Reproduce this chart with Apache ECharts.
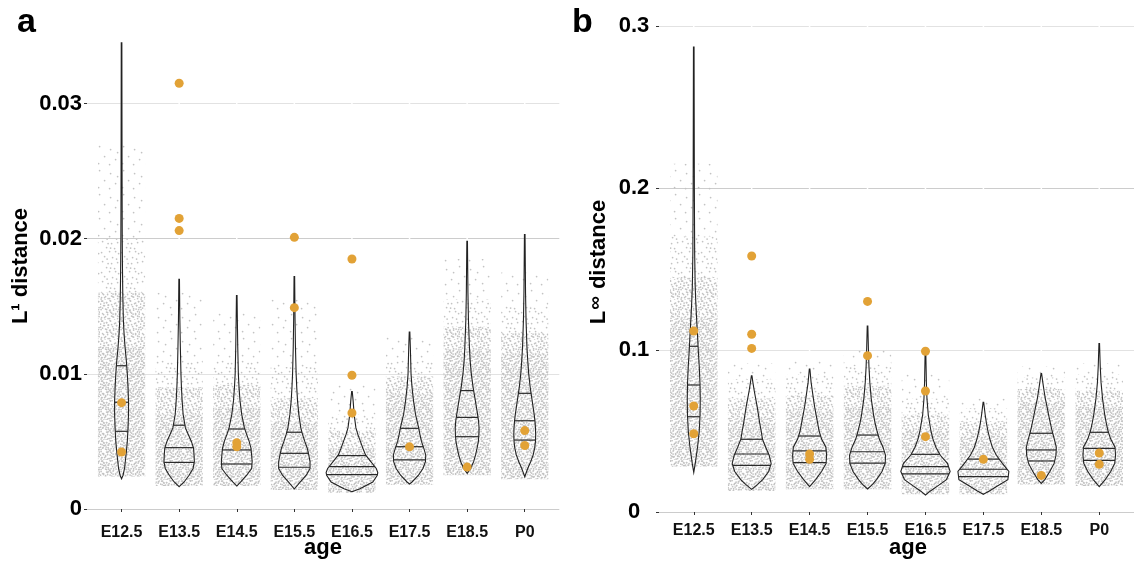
<!DOCTYPE html>
<html><head><meta charset="utf-8">
<script src="https://cdn.jsdelivr.net/npm/echarts@6/dist/echarts.min.js"></script>
<style>html,body{margin:0;padding:0;background:#fff}#c{width:1134px;height:562px}</style>
</head><body><div id="c"></div>
<script>
// ---------------- DATA ----------------
const categories = ['E12.5','E13.5','E14.5','E15.5','E16.5','E17.5','E18.5','P0'];
const l1Ticks = [0, 0.01, 0.02, 0.03];
const linfTicks = [0, 0.1, 0.2, 0.3];

// violin density profiles: [value, relative half-width]
const l1Profiles = [
 [[0.00224,0],[0.0025,1.5],[0.003,3],[0.004,4.5],[0.005,5.8],[0.006,6.5],[0.007,7],[0.008,7],[0.009,6.5],[0.010,5.8],[0.011,4.8],[0.012,3.5],[0.013,2.5],[0.014,1.8],[0.016,1.2],[0.018,0.9],[0.020,0.7],[0.025,0.5],[0.0345,0.3]],
 [[0.00165,0],[0.002,5],[0.0025,10],[0.003,14],[0.0035,15.3],[0.004,15],[0.0045,14.5],[0.005,12.3],[0.0055,9.3],[0.006,6.3],[0.007,4],[0.008,3],[0.009,2.3],[0.010,1.8],[0.012,1.2],[0.014,0.7],[0.017,0.3]],
 [[0.0017,0],[0.002,4],[0.0025,10],[0.003,15],[0.0035,15.5],[0.004,15],[0.0045,14.3],[0.005,12.5],[0.0055,10],[0.006,7.7],[0.007,5],[0.008,3.3],[0.009,2.3],[0.010,1.6],[0.012,1.0],[0.014,0.6],[0.0158,0.3]],
 [[0.00148,0],[0.002,6],[0.0025,12],[0.003,15.8],[0.0035,15.8],[0.004,14.5],[0.0045,13],[0.005,10.5],[0.0055,8.3],[0.006,6.5],[0.007,4.5],[0.008,3.2],[0.009,2.4],[0.010,1.8],[0.012,1.1],[0.014,0.7],[0.0172,0.3]],
 [[0.00128,0],[0.0015,8],[0.002,21],[0.0025,25.5],[0.0027,26],[0.003,24.5],[0.0035,19],[0.004,13.7],[0.0045,11],[0.005,8.5],[0.0055,6],[0.006,4],[0.007,2.2],[0.008,1.2],[0.0087,0.3]],
 [[0.00185,0],[0.002,2.5],[0.0025,9],[0.003,13.5],[0.0035,16],[0.004,16.3],[0.0045,14.3],[0.005,12],[0.0055,10.5],[0.006,9.2],[0.007,6],[0.008,4],[0.009,2.5],[0.010,1.5],[0.012,0.8],[0.0131,0.3]],
 [[0.00264,0],[0.003,3.5],[0.0035,6.5],[0.004,8.5],[0.0045,10],[0.005,11.3],[0.0055,11.8],[0.006,12],[0.0065,11.5],[0.007,10.5],[0.008,8.3],[0.009,6],[0.010,4.2],[0.011,3],[0.012,2.3],[0.014,1.3],[0.016,0.8],[0.0198,0.3]],
 [[0.00239,0],[0.003,3],[0.0035,6],[0.004,8.5],[0.0045,10],[0.005,10.8],[0.0055,11],[0.006,10.8],[0.0065,10.3],[0.007,9.5],[0.008,7.5],[0.009,5.5],[0.010,4],[0.011,3],[0.012,2.2],[0.014,1.3],[0.016,0.8],[0.0203,0.3]]
];
const l1Quartiles = [
 [0.00575,0.0079,0.0106],[0.00345,0.00454,0.0062],[0.00333,0.00437,0.00592],[0.00309,0.00412,0.00568],
 [0.00254,0.00313,0.00395],[0.00363,0.00461,0.00597],[0.00535,0.00678,0.00876],[0.0051,0.00653,0.00856]
];
// jittered cloud extent: [low, denseTop, mediumTop, lightTop, sparseTop]
const l1Clouds = [
 [0.0024,0.012,0.016,0.020,0.027],[0.0017,0.007,0.009,0.011,0.016],[0.0017,0.0075,0.0092,0.011,0.0145],[0.0014,0.0065,0.0082,0.0105,0.0155],
 [0.0012,0.0045,0.0058,0.007,0.0092],[0.0018,0.0085,0.0098,0.011,0.0128],[0.0025,0.0118,0.0135,0.0155,0.0185],[0.0022,0.0115,0.013,0.015,0.0175]
];
const l1Highlights = [
 [1,0.00787],[1,0.00422],[2,0.0315],[2,0.0215],[2,0.0206],[3,0.0049],[3,0.0046],[4,0.0201],[4,0.0149],
 [5,0.0185],[5,0.0099],[5,0.0071],[6,0.0046],[7,0.0031],[8,0.0058],[8,0.0047]
];

const linfProfiles = [
 [[0.0245,0],[0.03,1.5],[0.04,3.8],[0.05,5.5],[0.06,6.3],[0.07,6.5],[0.08,6.2],[0.09,5.5],[0.10,4.5],[0.11,3.7],[0.12,2.8],[0.13,2],[0.14,1.4],[0.16,0.9],[0.20,0.6],[0.287,0.3]],
 [[0.014,0],[0.017,6],[0.02,11],[0.025,17],[0.03,19.5],[0.035,17.5],[0.04,14],[0.045,10.8],[0.05,9.5],[0.055,8],[0.06,6.8],[0.065,5.5],[0.07,4],[0.075,2.5],[0.08,1.2],[0.084,0.3]],
 [[0.0156,0],[0.02,6],[0.025,12],[0.03,16.5],[0.035,17],[0.04,16.3],[0.045,12],[0.05,9.5],[0.055,8],[0.06,6.5],[0.065,5],[0.07,3.8],[0.08,1.5],[0.0883,0.3]],
 [[0.0142,0],[0.017,5],[0.02,9],[0.025,14.5],[0.03,17.7],[0.035,18],[0.04,15.5],[0.045,11.8],[0.05,9.5],[0.055,7.5],[0.06,6],[0.07,3.7],[0.08,2.3],[0.09,1.4],[0.10,0.9],[0.1148,0.3]],
 [[0.0105,0],[0.013,5],[0.016,12],[0.02,21],[0.025,24.7],[0.03,22],[0.035,14.8],[0.04,10.5],[0.045,7.5],[0.05,5.5],[0.06,2.8],[0.07,1.5],[0.08,0.9],[0.10,0.3]],
 [[0.0109,0],[0.013,6],[0.016,14],[0.02,24.5],[0.025,25.5],[0.03,19],[0.035,13],[0.04,9],[0.045,6.5],[0.05,4.5],[0.055,3],[0.06,1.8],[0.0677,0.3]],
 [[0.0177,0],[0.02,3.5],[0.025,8.5],[0.03,12.8],[0.035,14.7],[0.04,15],[0.045,13],[0.05,10.8],[0.055,9],[0.06,7.3],[0.065,5.7],[0.07,4],[0.075,2.7],[0.08,1.5],[0.0854,0.3]],
 [[0.0156,0],[0.02,6],[0.025,11.5],[0.03,15.5],[0.035,16.3],[0.04,15.8],[0.045,11.5],[0.05,8.8],[0.055,7],[0.06,5.5],[0.07,3.3],[0.08,1.8],[0.09,1],[0.104,0.3]]
];
const linfQuartiles = [
 [0.0588,0.0784,0.1023],[0.0288,0.0358,0.0449],[0.0305,0.0377,0.0469],[0.0302,0.0372,0.0475],
 [0.0235,0.028,0.0356],[0.0218,0.0264,0.0327],[0.0315,0.0383,0.0486],[0.0319,0.0393,0.0492]
];
const linfClouds = [
 [0.028,0.12,0.145,0.17,0.215],[0.013,0.058,0.07,0.082,0.092],[0.014,0.062,0.072,0.085,0.095],[0.014,0.065,0.078,0.09,0.1],
 [0.011,0.05,0.06,0.07,0.085],[0.011,0.047,0.056,0.064,0.07],[0.017,0.068,0.076,0.083,0.09],[0.016,0.065,0.075,0.085,0.092]
];
const linfHighlights = [
 [1,0.1117],[1,0.0654],[1,0.0483],[2,0.158],[2,0.1097],[2,0.101],[3,0.0358],[3,0.0325],[4,0.130],[4,0.0965],
 [5,0.0992],[5,0.0747],[5,0.0465],[6,0.0325],[7,0.0226],[8,0.0364],[8,0.0294]
];

// ---------------- STYLE / RENDER ----------------
const FONT = 'Liberation Sans, Arial, Helvetica, sans-serif';
const ORANGE = '#E2A236';
const REF_UNIT = 58; // px per category in reference, used to scale density widths

// fixed hand-placed dot textures (visual texture for the jittered point clouds)
const texA = [[1,0.5],[6,2],[10,0.5],[14,3],[18,1],[3,5],[8,4.5],[12,6],[16,5],[18.5,7],[0.5,9],[5,8.5],[9,10],[13,9.5],[17,11],[2,13],[7,14],[11,12.5],[15,14],[18.5,13.5],[4,17],[9,18],[13,16.5],[17,18],[0.5,18.5],[3.5,2.5],[15.5,8.5],[6,11.5],[11,15.5],[18.5,16]];
const texB = [[2,1],[11,3],[17,2],[6,7],[14,8],[1,12],[9,11],[18,13],[4,16],[12,17],[16,18.5],[7.5,3],[10,7.5],[15,11],[6.5,18.5]];
const texC = [[3,2],[14,5],[8,12],[19,15],[2,19],[13,20],[21,8]];
function tile(size, dots, shifts) {
  const cv = document.createElement('canvas');
  cv.width = size; cv.height = size;
  const ctx = cv.getContext('2d');
  ctx.fillStyle = '#c3c3c3';
  shifts.forEach(s => dots.forEach(d => {
    const x = (d[0] + s[0]) % size, y = (d[1] + s[1]) % size;
    ctx.beginPath(); ctx.arc(x + 0.6, y + 0.6, 0.85, 0, Math.PI * 2); ctx.fill();
  }));
  return { image: cv, repeat: 'repeat' };
}
const patterns = [
  tile(20, texA, [[0,0],[9,11],[4.5,6]]),
  tile(20, texA, [[0,0],[9,11]]),
  tile(20, texB, [[0,0]]),
  tile(24, texC, [[0,0]])
];

function widthAt(profile, v) {
  for (let i = 1; i < profile.length; i++) {
    if (v <= profile[i][0]) {
      const a = profile[i-1], b = profile[i];
      return a[1] + (b[1] - a[1]) * (v - a[0]) / (b[0] - a[0]);
    }
  }
  return profile[profile.length-1][1];
}

function vgridRender(ymax) {
  return function (params, api) {
    const c = api.value(0);
    const p1 = api.coord([c, 0]), p2 = api.coord([c, ymax]);
    return { type: 'line', shape: { x1: p1[0], y1: p1[1], x2: p2[0], y2: p2[1] }, style: { stroke: '#ffffff', lineWidth: 1.5 } };
  };
}
function cloudRender(clouds) {
  return function (params, api) {
    const c = api.value(0), b = clouds[params.dataIndex];
    const children = [];
    for (let k = 0; k < 4; k++) {
      const p1 = api.coord([c - 0.41, b[k]]), p2 = api.coord([c + 0.41, b[k+1]]);
      children.push({ type: 'rect', shape: { x: p1[0], y: p2[1], width: p2[0] - p1[0], height: p1[1] - p2[1] }, style: { fill: patterns[k] } });
    }
    return { type: 'group', children };
  };
}
function violinRender(profiles, quartiles) {
  return function (params, api) {
    const c = api.value(0), prof = profiles[params.dataIndex];
    const k = api.size([1, 0])[0] / REF_UNIT;
    const right = [], left = [];
    prof.forEach(d => {
      const p = api.coord([c, d[0]]);
      right.push([p[0] + d[1] * k, p[1]]);
      left.unshift([p[0] - d[1] * k, p[1]]);
    });
    const children = [{ type: 'polygon', shape: { points: right.concat(left) }, style: { fill: 'none', stroke: '#222', lineWidth: 1.1 } }];
    quartiles[params.dataIndex].forEach(q => {
      const p = api.coord([c, q]);
      const w = widthAt(prof, q) * k;
      children.push({ type: 'line', shape: { x1: p[0] - w, y1: p[1], x2: p[0] + w, y2: p[1] }, style: { stroke: '#2a2a2a', lineWidth: 1.2 } });
    });
    return { type: 'group', children };
  };
}

const catIdx = categories.map((c, i) => [i + 1, 0]);
const catTicks = categories.map((c, i) => i + 1);

function xAxisFor(g, margin) {
  return {
    gridIndex: g, type: 'value', min: 0.4, max: 8.6,
    axisLine: { show: false }, splitLine: { show: false },
    axisTick: { show: true, customValues: catTicks, length: 3, lineStyle: { color: '#333' } },
    axisLabel: { customValues: catTicks, formatter: v => categories[Math.round(v) - 1], fontFamily: FONT, fontWeight: 'bold', fontSize: 16, color: '#111', margin: margin }
  };
}
function yAxisFor(g, max, interval, ticks, align, margin) {
  return {
    gridIndex: g, type: 'value', min: 0, max: max, interval: interval,
    axisLine: { show: false },
    splitLine: { show: true, lineStyle: { color: ['#cccccc', '#e2e2e2'], width: 1.2 } },
    axisTick: { show: true, customValues: ticks, length: 3, lineStyle: { color: '#333' } },
    axisLabel: { customValues: ticks, formatter: v => String(v), fontFamily: FONT, fontWeight: 'bold', fontSize: 22, color: '#000', align: align, margin: margin }
  };
}
function panelSeries(g, ymax, profiles, quartiles, clouds, highlights) {
  return [
    { type: 'custom', xAxisIndex: g, yAxisIndex: g, data: catIdx, renderItem: vgridRender(ymax), z: 1, silent: true },
    { type: 'custom', xAxisIndex: g, yAxisIndex: g, data: catIdx, renderItem: cloudRender(clouds), z: 2, silent: true },
    { type: 'custom', xAxisIndex: g, yAxisIndex: g, data: catIdx, renderItem: violinRender(profiles, quartiles), z: 3, silent: true },
    { type: 'scatter', xAxisIndex: g, yAxisIndex: g, data: highlights, symbolSize: 9, itemStyle: { color: ORANGE, opacity: 1 }, z: 5, silent: true }
  ];
}

const chart = echarts.init(document.getElementById('c'));
chart.setOption({
  animation: false,
  backgroundColor: '#fff',
  grid: [
    { left: 87, top: 36, width: 472.3, height: 473 },
    { left: 659, top: 26, width: 477.7, height: 486 }
  ],
  xAxis: [xAxisFor(0, 16), xAxisFor(1, 11)],
  yAxis: [
    yAxisFor(0, 0.035, 0.005, l1Ticks, 'right', 5),
    yAxisFor(1, 0.3, 0.05, linfTicks, 'center', 25)
  ],
  series: [].concat(
    panelSeries(0, 0.035, l1Profiles, l1Quartiles, l1Clouds, l1Highlights),
    panelSeries(1, 0.3, linfProfiles, linfQuartiles, linfClouds, linfHighlights)
  ),
  graphic: [
    { type: 'text', x: 17, y: 23, style: { text: 'a', font: 'bold 34px ' + FONT, fill: '#000', align: 'left', verticalAlign: 'middle' } },
    { type: 'text', x: 572, y: 23, style: { text: 'b', font: 'bold 34px ' + FONT, fill: '#000', align: 'left', verticalAlign: 'middle' } },
    { type: 'text', x: 323, y: 548, style: { text: 'age', font: 'bold 22px ' + FONT, fill: '#000', align: 'center', verticalAlign: 'middle' } },
    { type: 'text', x: 908, y: 548, style: { text: 'age', font: 'bold 22px ' + FONT, fill: '#000', align: 'center', verticalAlign: 'middle' } },
    { type: 'text', x: 20.5, y: 266, rotation: Math.PI / 2, style: { text: 'L¹ distance', font: 'bold 22px ' + FONT, fill: '#000', align: 'center', verticalAlign: 'middle' } },
    { type: 'text', x: 599, y: 262, rotation: Math.PI / 2,
      style: { text: '{m|L}{s|∞}{m| distance}', fill: '#000', align: 'center', verticalAlign: 'middle',
        rich: { m: { font: 'bold 22px ' + FONT, fill: '#000' }, s: { font: 'bold 19px ' + FONT, fill: '#000', verticalAlign: 'top', padding: [0, 1, 6, 1] } } } }
  ]
});
</script>
</body></html>
